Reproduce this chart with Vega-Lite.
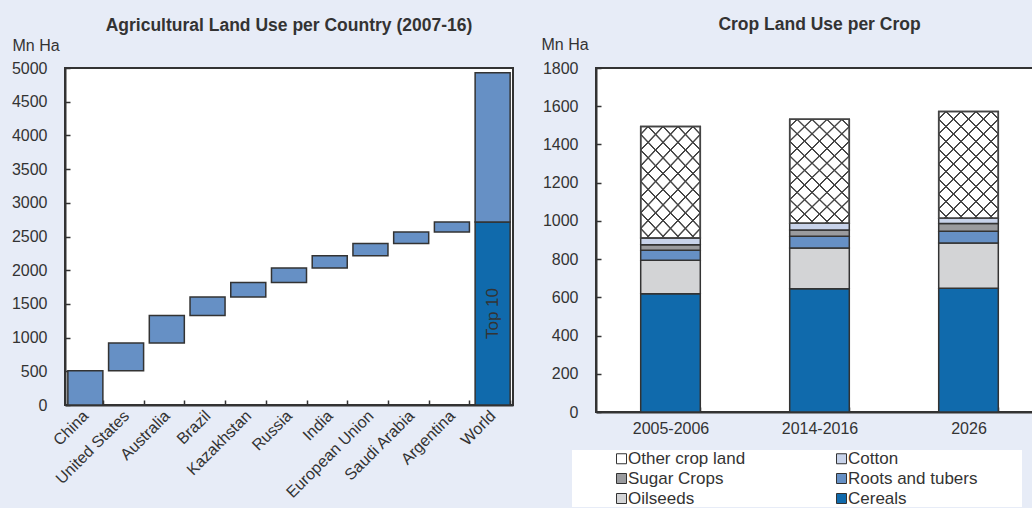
{
  "$schema": "https://vega.github.io/schema/vega-lite/v6.json",
  "background": "#e7ecf7",
  "padding": {"left": 10, "top": 14, "right": 0, "bottom": 0},
  "spacing": 26,
  "resolve": {"scale": {"color": "independent"}},
  "config": {
    "font": "Liberation Sans",
    "view": {"fill": "white", "stroke": "#333", "strokeWidth": 2},
    "axis": {
      "domainColor": "#333", "domainWidth": 2, "tickColor": "#333", "tickWidth": 1.5, "tickSize": -5,
      "labelFont": "Liberation Sans", "labelFontSize": 16, "labelColor": "#333", "grid": false, "labelOverlap": false,
      "titleFont": "Liberation Sans", "titleFontSize": 16, "titleFontWeight": "normal", "titleColor": "#333"
    },
    "title": {"font": "Liberation Sans", "fontSize": 17.5, "fontWeight": "bold", "color": "#333", "offset": 3}
  },
  "hconcat": [
    {
      "width": 448,
      "height": 337,
      "title": {"text": "Agricultural Land Use per Country (2007-16)"},
      "data": {"values": [
        {"country": "China", "segment": "Country", "group": "countries", "stack_order": 1, "value": 510},
        {"country": "United States", "segment": "Country", "group": "countries", "stack_order": 2, "value": 410},
        {"country": "Australia", "segment": "Country", "group": "countries", "stack_order": 3, "value": 408},
        {"country": "Brazil", "segment": "Country", "group": "countries", "stack_order": 4, "value": 273},
        {"country": "Kazakhstan", "segment": "Country", "group": "countries", "stack_order": 5, "value": 215},
        {"country": "Russia", "segment": "Country", "group": "countries", "stack_order": 6, "value": 218},
        {"country": "India", "segment": "Country", "group": "countries", "stack_order": 7, "value": 179},
        {"country": "European Union", "segment": "Country", "group": "countries", "stack_order": 8, "value": 184},
        {"country": "Saudi Arabia", "segment": "Country", "group": "countries", "stack_order": 9, "value": 169},
        {"country": "Argentina", "segment": "Country", "group": "countries", "stack_order": 10, "value": 149},
        {"country": "World", "segment": "Top 10", "group": "world", "stack_order": 1, "value": 2715},
        {"country": "World", "segment": "Rest of world", "group": "world", "stack_order": 2, "value": 2215}
      ]},
      "transform": [
        {"stack": "value", "groupby": ["group"], "sort": [{"field": "stack_order", "order": "ascending"}], "as": ["v0", "v1"]}
      ],
      "encoding": {
        "x": {
          "field": "country", "type": "nominal",
          "sort": ["China", "United States", "Australia", "Brazil", "Kazakhstan", "Russia", "India", "European Union", "Saudi Arabia", "Argentina", "World"],
          "scale": {"paddingInner": 0.14, "paddingOuter": 0.07},
          "axis": {"title": null, "labelAngle": -45, "labelAlign": "right", "labelBaseline": "middle", "labelPadding": 13, "tickBand": "extent"}
        }
      },
      "layer": [
        {
          "mark": {"type": "bar", "stroke": "#333", "strokeWidth": 1.5},
          "encoding": {
            "y": {
              "field": "v1", "type": "quantitative",
              "scale": {"domain": [0, 5000], "nice": false},
              "axis": {"values": [0, 500, 1000, 1500, 2000, 2500, 3000, 3500, 4000, 4500, 5000], "format": "d", "title": "Mn Ha", "titleAngle": 0, "titleAlign": "left", "titleBaseline": "alphabetic", "titleX": -53, "titleY": -18, "labelPadding": 23}
            },
            "y2": {"field": "v0"},
            "color": {
              "field": "segment", "type": "nominal",
              "scale": {"domain": ["Country", "Top 10", "Rest of world"], "range": ["#6690c5", "#106aac", "#6690c5"]},
              "legend": null
            }
          }
        },
        {
          "transform": [
            {"filter": "datum.segment === 'Top 10'"},
            {"calculate": "(datum.v0 + datum.v1) / 2", "as": "mid"}
          ],
          "mark": {"type": "text", "angle": 270, "fontSize": 17, "color": "#333", "font": "Liberation Sans"},
          "encoding": {
            "y": {
              "field": "mid", "type": "quantitative",
              "scale": {"domain": [0, 5000], "nice": false},
              "axis": {"values": [0, 500, 1000, 1500, 2000, 2500, 3000, 3500, 4000, 4500, 5000], "format": "d", "title": "Mn Ha", "titleAngle": 0, "titleAlign": "left", "titleBaseline": "alphabetic", "titleX": -53, "titleY": -18, "labelPadding": 23}
            },
            "text": {"field": "segment"}
          }
        }
      ]
    },
    {
      "width": 447,
      "height": 344,
      "title": {"text": "Crop Land Use per Crop"},
      "data": {"values": [
        {"period": "2005-2006", "crop": "Cereals", "stack_order": 1, "area": 619},
        {"period": "2005-2006", "crop": "Oilseeds", "stack_order": 2, "area": 175},
        {"period": "2005-2006", "crop": "Roots and tubers", "stack_order": 3, "area": 53},
        {"period": "2005-2006", "crop": "Sugar Crops", "stack_order": 4, "area": 28},
        {"period": "2005-2006", "crop": "Cotton", "stack_order": 5, "area": 35},
        {"period": "2005-2006", "crop": "Other crop land", "stack_order": 6, "area": 584},
        {"period": "2014-2016", "crop": "Cereals", "stack_order": 1, "area": 645},
        {"period": "2014-2016", "crop": "Oilseeds", "stack_order": 2, "area": 213},
        {"period": "2014-2016", "crop": "Roots and tubers", "stack_order": 3, "area": 61},
        {"period": "2014-2016", "crop": "Sugar Crops", "stack_order": 4, "area": 33},
        {"period": "2014-2016", "crop": "Cotton", "stack_order": 5, "area": 36},
        {"period": "2014-2016", "crop": "Other crop land", "stack_order": 6, "area": 544},
        {"period": "2026", "crop": "Cereals", "stack_order": 1, "area": 648},
        {"period": "2026", "crop": "Oilseeds", "stack_order": 2, "area": 236},
        {"period": "2026", "crop": "Roots and tubers", "stack_order": 3, "area": 62},
        {"period": "2026", "crop": "Sugar Crops", "stack_order": 4, "area": 40},
        {"period": "2026", "crop": "Cotton", "stack_order": 5, "area": 28},
        {"period": "2026", "crop": "Other crop land", "stack_order": 6, "area": 559}
      ]},
      "transform": [
        {"stack": "area", "groupby": ["period"], "sort": [{"field": "stack_order", "order": "ascending"}], "as": ["a0", "a1"]}
      ],
      "encoding": {
        "x": {
          "field": "period", "type": "nominal", "sort": ["2005-2006", "2014-2016", "2026"],
          "scale": {"paddingInner": 0.6, "paddingOuter": 0.3},
          "axis": {"title": null, "labelAngle": 0, "labelBaseline": "top", "labelPadding": 13, "tickBand": "extent"}
        },
        "y": {
          "field": "a1", "type": "quantitative",
          "scale": {"domain": [0, 1800], "nice": false},
          "axis": {"values": [0, 200, 400, 600, 800, 1000, 1200, 1400, 1600, 1800], "format": "d", "title": "Mn Ha", "titleAngle": 0, "titleAlign": "left", "titleBaseline": "alphabetic", "titleX": -55, "titleY": -19, "labelPadding": 23}
        },
        "y2": {"field": "a0"}
      },
      "layer": [
        {
          "mark": {"type": "bar", "stroke": "#333", "strokeWidth": 1.5},
          "encoding": {
            "color": {
              "field": "crop", "type": "nominal",
              "scale": {
                "domain": ["Other crop land", "Sugar Crops", "Oilseeds", "Cotton", "Roots and tubers", "Cereals"],
                "range": ["#ffffff", "#9a9b9e", "#d3d4d6", "#c8d3ea", "#6690c5", "#106aac"]
              },
              "legend": {
                "title": " ", "titleOrient": "right", "titlePadding": 45,
                "orient": "none", "legendX": -24, "legendY": 382, "columns": 2, "columnPadding": 46,
                "symbolType": "square", "symbolSize": 100, "symbolStrokeColor": "#333", "symbolStrokeWidth": 1,
                "labelFont": "Liberation Sans", "labelFontSize": 17, "labelColor": "#333", "labelLimit": 0,
                "fillColor": "white", "padding": 0, "rowPadding": 2, "symbolOffset": 41, "labelOffset": -2
              }
            }
          }
        },
        {
          "transform": [{"filter": "datum.crop === 'Other crop land'"}],
          "mark": {
            "type": "bar", "strokeWidth": 0,
            "fill": {
              "gradient": "linear", "x1": 0, "y1": 0, "x2": 0.6658, "y2": 1.1874,
              "stops": [
                {"offset": 0.037, "color": "rgba(70,70,70,0)"}, {"offset": 0.041, "color": "#464646"}, {"offset": 0.049, "color": "#464646"}, {"offset": 0.053, "color": "rgba(70,70,70,0)"},
                {"offset": 0.127, "color": "rgba(70,70,70,0)"}, {"offset": 0.131, "color": "#464646"}, {"offset": 0.139, "color": "#464646"}, {"offset": 0.143, "color": "rgba(70,70,70,0)"},
                {"offset": 0.217, "color": "rgba(70,70,70,0)"}, {"offset": 0.221, "color": "#464646"}, {"offset": 0.229, "color": "#464646"}, {"offset": 0.233, "color": "rgba(70,70,70,0)"},
                {"offset": 0.307, "color": "rgba(70,70,70,0)"}, {"offset": 0.311, "color": "#464646"}, {"offset": 0.319, "color": "#464646"}, {"offset": 0.323, "color": "rgba(70,70,70,0)"},
                {"offset": 0.397, "color": "rgba(70,70,70,0)"}, {"offset": 0.401, "color": "#464646"}, {"offset": 0.409, "color": "#464646"}, {"offset": 0.413, "color": "rgba(70,70,70,0)"},
                {"offset": 0.487, "color": "rgba(70,70,70,0)"}, {"offset": 0.491, "color": "#464646"}, {"offset": 0.499, "color": "#464646"}, {"offset": 0.503, "color": "rgba(70,70,70,0)"},
                {"offset": 0.577, "color": "rgba(70,70,70,0)"}, {"offset": 0.581, "color": "#464646"}, {"offset": 0.589, "color": "#464646"}, {"offset": 0.593, "color": "rgba(70,70,70,0)"},
                {"offset": 0.667, "color": "rgba(70,70,70,0)"}, {"offset": 0.671, "color": "#464646"}, {"offset": 0.679, "color": "#464646"}, {"offset": 0.683, "color": "rgba(70,70,70,0)"},
                {"offset": 0.757, "color": "rgba(70,70,70,0)"}, {"offset": 0.761, "color": "#464646"}, {"offset": 0.769, "color": "#464646"}, {"offset": 0.773, "color": "rgba(70,70,70,0)"},
                {"offset": 0.847, "color": "rgba(70,70,70,0)"}, {"offset": 0.851, "color": "#464646"}, {"offset": 0.859, "color": "#464646"}, {"offset": 0.863, "color": "rgba(70,70,70,0)"},
                {"offset": 0.937, "color": "rgba(70,70,70,0)"}, {"offset": 0.941, "color": "#464646"}, {"offset": 0.949, "color": "#464646"}, {"offset": 0.953, "color": "rgba(70,70,70,0)"}
              ]
            }
          }
        },
        {
          "transform": [{"filter": "datum.crop === 'Other crop land'"}],
          "mark": {
            "type": "bar", "stroke": "#444", "strokeWidth": 1.5,
            "fill": {
              "gradient": "linear", "x1": 1, "y1": 0, "x2": 0.3342, "y2": 1.1874,
              "stops": [
                {"offset": 0.037, "color": "rgba(70,70,70,0)"}, {"offset": 0.041, "color": "#464646"}, {"offset": 0.049, "color": "#464646"}, {"offset": 0.053, "color": "rgba(70,70,70,0)"},
                {"offset": 0.127, "color": "rgba(70,70,70,0)"}, {"offset": 0.131, "color": "#464646"}, {"offset": 0.139, "color": "#464646"}, {"offset": 0.143, "color": "rgba(70,70,70,0)"},
                {"offset": 0.217, "color": "rgba(70,70,70,0)"}, {"offset": 0.221, "color": "#464646"}, {"offset": 0.229, "color": "#464646"}, {"offset": 0.233, "color": "rgba(70,70,70,0)"},
                {"offset": 0.307, "color": "rgba(70,70,70,0)"}, {"offset": 0.311, "color": "#464646"}, {"offset": 0.319, "color": "#464646"}, {"offset": 0.323, "color": "rgba(70,70,70,0)"},
                {"offset": 0.397, "color": "rgba(70,70,70,0)"}, {"offset": 0.401, "color": "#464646"}, {"offset": 0.409, "color": "#464646"}, {"offset": 0.413, "color": "rgba(70,70,70,0)"},
                {"offset": 0.487, "color": "rgba(70,70,70,0)"}, {"offset": 0.491, "color": "#464646"}, {"offset": 0.499, "color": "#464646"}, {"offset": 0.503, "color": "rgba(70,70,70,0)"},
                {"offset": 0.577, "color": "rgba(70,70,70,0)"}, {"offset": 0.581, "color": "#464646"}, {"offset": 0.589, "color": "#464646"}, {"offset": 0.593, "color": "rgba(70,70,70,0)"},
                {"offset": 0.667, "color": "rgba(70,70,70,0)"}, {"offset": 0.671, "color": "#464646"}, {"offset": 0.679, "color": "#464646"}, {"offset": 0.683, "color": "rgba(70,70,70,0)"},
                {"offset": 0.757, "color": "rgba(70,70,70,0)"}, {"offset": 0.761, "color": "#464646"}, {"offset": 0.769, "color": "#464646"}, {"offset": 0.773, "color": "rgba(70,70,70,0)"},
                {"offset": 0.847, "color": "rgba(70,70,70,0)"}, {"offset": 0.851, "color": "#464646"}, {"offset": 0.859, "color": "#464646"}, {"offset": 0.863, "color": "rgba(70,70,70,0)"},
                {"offset": 0.937, "color": "rgba(70,70,70,0)"}, {"offset": 0.941, "color": "#464646"}, {"offset": 0.949, "color": "#464646"}, {"offset": 0.953, "color": "rgba(70,70,70,0)"}
              ]
            }
          }
        }
      ]
    }
  ]
}
